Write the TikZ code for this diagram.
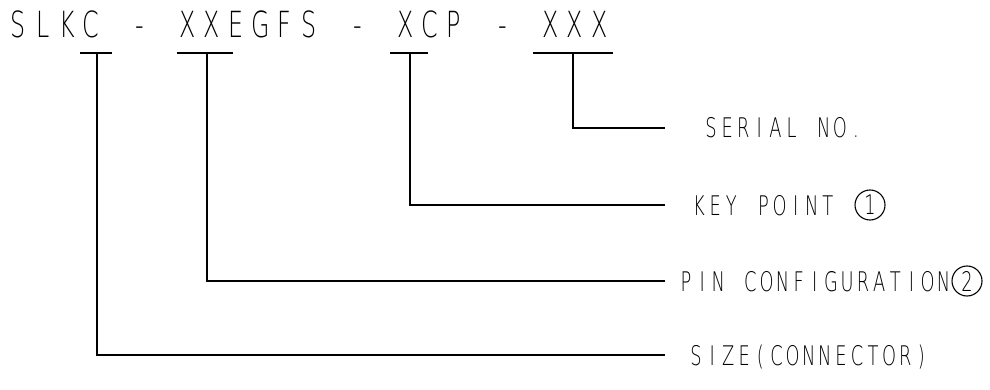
\documentclass[tikz,border=0pt]{standalone}
\usepackage{fontspec}
\usepackage{graphicx}
\newfontfamily\cad{DejaVuSans-ExtraLight.ttf}
\newlength\cadpitch
\newcommand\cadxs{0.66}
\def\cadloop#1{\ifx#1\relax\else\makebox[\cadpitch]{\scalebox{\cadxs}[1]{#1}}\expandafter\cadloop\fi}
\newcommand\cadtext[3]{{\setlength\cadpitch{#1}\fontsize{#2}{#2}\cad\cadloop#3\relax}}
\begin{document}
\begin{tikzpicture}[x=1pt,y=-1pt,
  lead/.style={line width=1.1pt},
  title/.style={anchor=base west,inner sep=0pt,outer sep=0pt},
  lbl/.style={anchor=base west,inner sep=0pt,outer sep=0pt},
  num/.style={circle,draw,line width=1.1pt,minimum size=30pt,inner sep=0pt,font=\cad\fontsize{27}{27}\selectfont}]
\useasboundingbox (0,0) rectangle (990,390);
% code string
\node[title] (code) at (6.4,38) {\cadtext{24.2pt}{36}{SLKC~-~XXEGFS~-~XCP~-~XXX}};
% underline segments
\coordinate (a1) at (80,53);  \coordinate (b1) at (112,53); \coordinate (t1) at (97,53);
\coordinate (a2) at (177,53); \coordinate (b2) at (233,53); \coordinate (t2) at (207,53);
\coordinate (a3) at (390,53); \coordinate (b3) at (428,53); \coordinate (t3) at (410,53);
\coordinate (a4) at (533,53); \coordinate (b4) at (613,53); \coordinate (t4) at (573,53);
\draw[lead] (a1) -- (b1);
\draw[lead] (a2) -- (b2);
\draw[lead] (a3) -- (b3);
\draw[lead] (a4) -- (b4);
% line ends
\coordinate (e4) at (665,128);
\coordinate (e3) at (665,205);
\coordinate (e2) at (665,281);
\coordinate (e1) at (665,355);
\draw[lead] (t4) |- (e4);
\draw[lead] (t3) |- (e3);
\draw[lead] (t2) |- (e2);
\draw[lead] (t1) |- (e1);
% labels
\node[lbl] (serial) at (703,138) {\cadtext{16.1pt}{27}{SERIAL~NO.}};
\node[lbl] (key) at (691,215) {\cadtext{16.1pt}{27}{KEY~POINT}};
\node[num] (n1) at (870,205) {\scalebox{0.66}[1]{1}};
\node[lbl] (pin) at (678,291) {\cadtext{16.1pt}{27}{PIN~CONFIGURATION}};
\node[num] (n2) at (967,281) {\scalebox{0.66}[1]{2}};
\node[lbl] (size) at (688,365) {\cadtext{16.1pt}{27}{SIZE(CONNECTOR)}};
\end{tikzpicture}
\end{document}
